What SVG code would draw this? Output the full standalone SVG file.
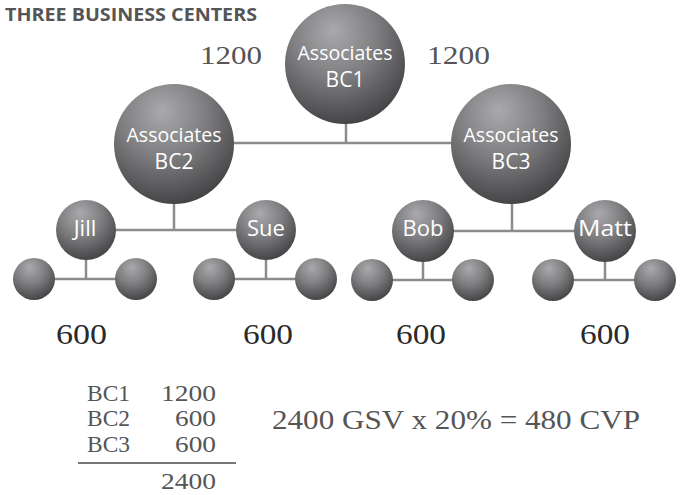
<svg xmlns="http://www.w3.org/2000/svg" width="688" height="495" viewBox="0 0 688 495">
<defs>
<radialGradient id="sph" cx="0.42" cy="0.3" r="0.78" fx="0.4" fy="0.22">
<stop offset="0" stop-color="#aaaaac"/>
<stop offset="0.45" stop-color="#7f7f81"/>
<stop offset="1" stop-color="#3a3a3c"/>
</radialGradient>
<style>
.s{fill:url(#sph)}
.c{stroke:#8c8c8c;stroke-width:2.5;fill:none}
.lb{font-family:"Open Sans",sans-serif;fill:#fff;text-anchor:middle}
.num{font-family:"Liberation Serif",serif}
</style>
</defs>
<rect width="688" height="495" fill="#fff"/>
<text x="5" y="21" font-family="Open Sans,sans-serif" font-weight="bold" font-size="18.5" fill="#555" textLength="252" lengthAdjust="spacingAndGlyphs">THREE BUSINESS CENTERS</text>
<g id="connectors" class="c">
<path d="M346 120V143M174 143H512"/>
<path d="M174 200V230M86 230H266"/>
<path d="M512 200V231M423 231H605"/>
<path d="M86 255V279M34 279H136"/>
<path d="M266 255V279M214 279H316"/>
<path d="M423 256V280M372 280H473"/>
<path d="M605 256V280M553 280H655"/>
</g>
<g id="bc1"><circle class="s" cx="345" cy="64" r="60"/><text class="lb" x="345" y="60" font-size="19.8" textLength="95" lengthAdjust="spacingAndGlyphs">Associates</text><text class="lb" x="345" y="87" font-size="21">BC1</text></g>
<g id="bc2"><circle class="s" cx="174" cy="144" r="60"/><text class="lb" x="174" y="142" font-size="19.8" textLength="95" lengthAdjust="spacingAndGlyphs">Associates</text><text class="lb" x="174" y="169" font-size="21">BC2</text></g>
<g id="bc3"><circle class="s" cx="511" cy="144" r="60"/><text class="lb" x="511" y="142" font-size="19.8" textLength="95" lengthAdjust="spacingAndGlyphs">Associates</text><text class="lb" x="511" y="169" font-size="21">BC3</text></g>
<g id="jill"><circle class="s" cx="86" cy="230" r="30"/><text class="lb" x="85" y="236" font-size="22">Jill</text></g>
<g id="sue"><circle class="s" cx="266" cy="230" r="30"/><text class="lb" x="266" y="236" font-size="22">Sue</text></g>
<g id="bob"><circle class="s" cx="423" cy="231" r="31"/><text class="lb" x="423" y="236" font-size="22">Bob</text></g>
<g id="matt"><circle class="s" cx="605" cy="231" r="31"/><text class="lb" x="605" y="236" font-size="22" textLength="54" lengthAdjust="spacingAndGlyphs">Matt</text></g>
<g id="l1"><circle class="s" cx="34" cy="279" r="21"/></g>
<g id="l2"><circle class="s" cx="136" cy="279" r="21"/></g>
<g id="l3"><circle class="s" cx="214" cy="279" r="21"/></g>
<g id="l4"><circle class="s" cx="316" cy="279" r="21"/></g>
<g id="l5"><circle class="s" cx="372" cy="280" r="21"/></g>
<g id="l6"><circle class="s" cx="473" cy="280" r="21"/></g>
<g id="l7"><circle class="s" cx="553" cy="280" r="21"/></g>
<g id="l8"><circle class="s" cx="655" cy="280" r="21"/></g>
<g class="num" fill="#555" font-size="25">
<text x="200" y="64" textLength="62" lengthAdjust="spacingAndGlyphs">1200</text>
<text x="427" y="64" textLength="63" lengthAdjust="spacingAndGlyphs">1200</text>
</g>
<g class="num" fill="#2a2a2a" font-size="29">
<text x="56" y="344" textLength="51" lengthAdjust="spacingAndGlyphs">600</text>
<text x="243" y="344" textLength="50" lengthAdjust="spacingAndGlyphs">600</text>
<text x="396" y="344" textLength="50" lengthAdjust="spacingAndGlyphs">600</text>
<text x="580" y="344" textLength="50" lengthAdjust="spacingAndGlyphs">600</text>
</g>
<g class="num" fill="#555" font-size="23">
<text x="87" y="401" textLength="43" lengthAdjust="spacingAndGlyphs">BC1</text>
<text x="87" y="426" textLength="43" lengthAdjust="spacingAndGlyphs">BC2</text>
<text x="87" y="452" textLength="43" lengthAdjust="spacingAndGlyphs">BC3</text>
<text x="161" y="401" textLength="55" lengthAdjust="spacingAndGlyphs">1200</text>
<text x="175" y="426" textLength="41" lengthAdjust="spacingAndGlyphs">600</text>
<text x="175" y="452" textLength="41" lengthAdjust="spacingAndGlyphs">600</text>
<text x="161" y="489" textLength="55" lengthAdjust="spacingAndGlyphs">2400</text>
<text x="272" y="429" font-size="27" textLength="368" lengthAdjust="spacingAndGlyphs">2400 GSV x 20% = 480 CVP</text>
</g>
<line x1="78" y1="463" x2="236" y2="463" stroke="#777" stroke-width="2"/>
</svg>
